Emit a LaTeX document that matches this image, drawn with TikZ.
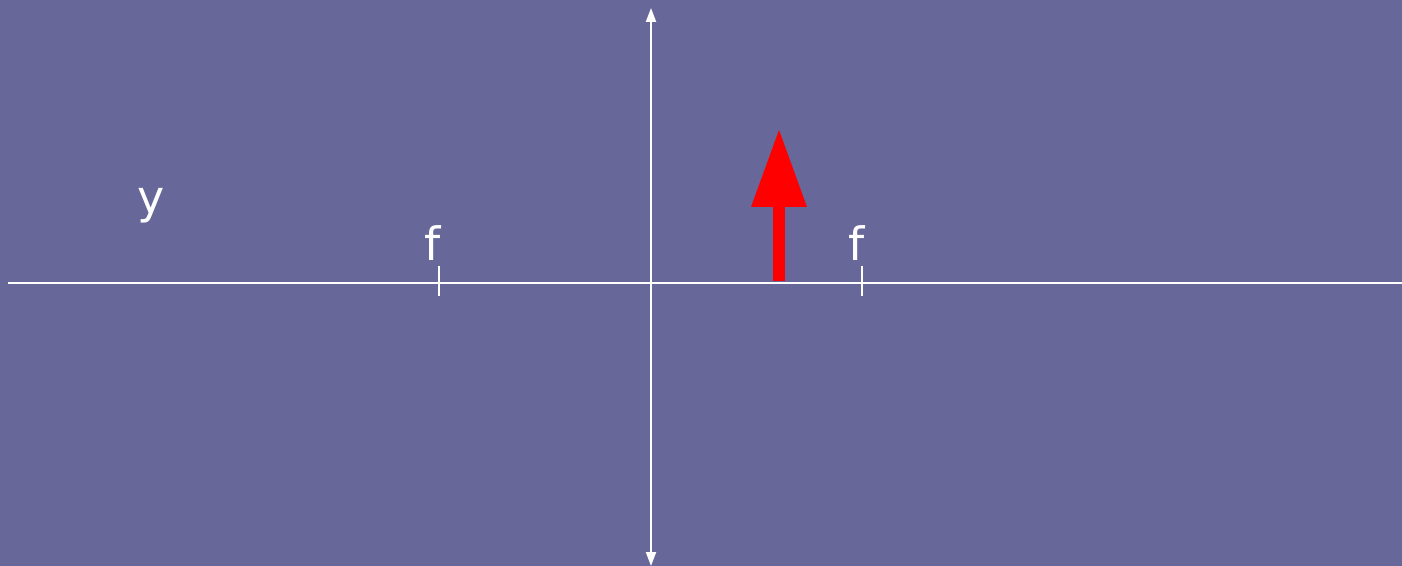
\documentclass[tikz,border=0pt]{standalone}
\usepackage{fontspec}
\setmainfont{DejaVu Sans}
\usetikzlibrary{arrows.meta}
\definecolor{bg}{RGB}{103,103,153}
\definecolor{objred}{RGB}{255,0,0}
\begin{document}
\begin{tikzpicture}[x=0.5pt,y=-0.5pt,
  axis/.style={white,line width=1pt},
  tick/.style={white,line width=1pt},
  lbl/.style={text=white,font=\fontsize{23}{26}\selectfont,inner sep=0pt}]
\fill[bg] (0,0) rectangle (1402,566);
\useasboundingbox (0,0) rectangle (1402,566);
% optical axis
\coordinate (axL) at (8,283);
\coordinate (axR) at (1402,283);
\draw[axis] (axL) -- (axR);
% lens
\coordinate (lensT) at (651,8);
\coordinate (lensB) at (651,566);
\draw[axis,{Triangle[width=5pt,length=7pt]}-{Triangle[width=5pt,length=7pt]}] (lensT) -- (lensB);
% focal ticks
\coordinate (fL1) at (439,266); \coordinate (fL2) at (439,296);
\coordinate (fR1) at (862,266); \coordinate (fR2) at (862,296);
\draw[tick] (fL1) -- (fL2);
\draw[tick] (fR1) -- (fR2);
\node[lbl] (fl) at (433,243) {f};
\node[lbl] (fr) at (857,243) {f};
\node[lbl] (y) at (151,206) {y};
% object
\coordinate (objT) at (779,130);
\fill[objred] (773,281) rectangle (785,206);
\fill[objred] (751,207) -- (objT) -- (807,207) -- cycle;
\end{tikzpicture}
\end{document}
